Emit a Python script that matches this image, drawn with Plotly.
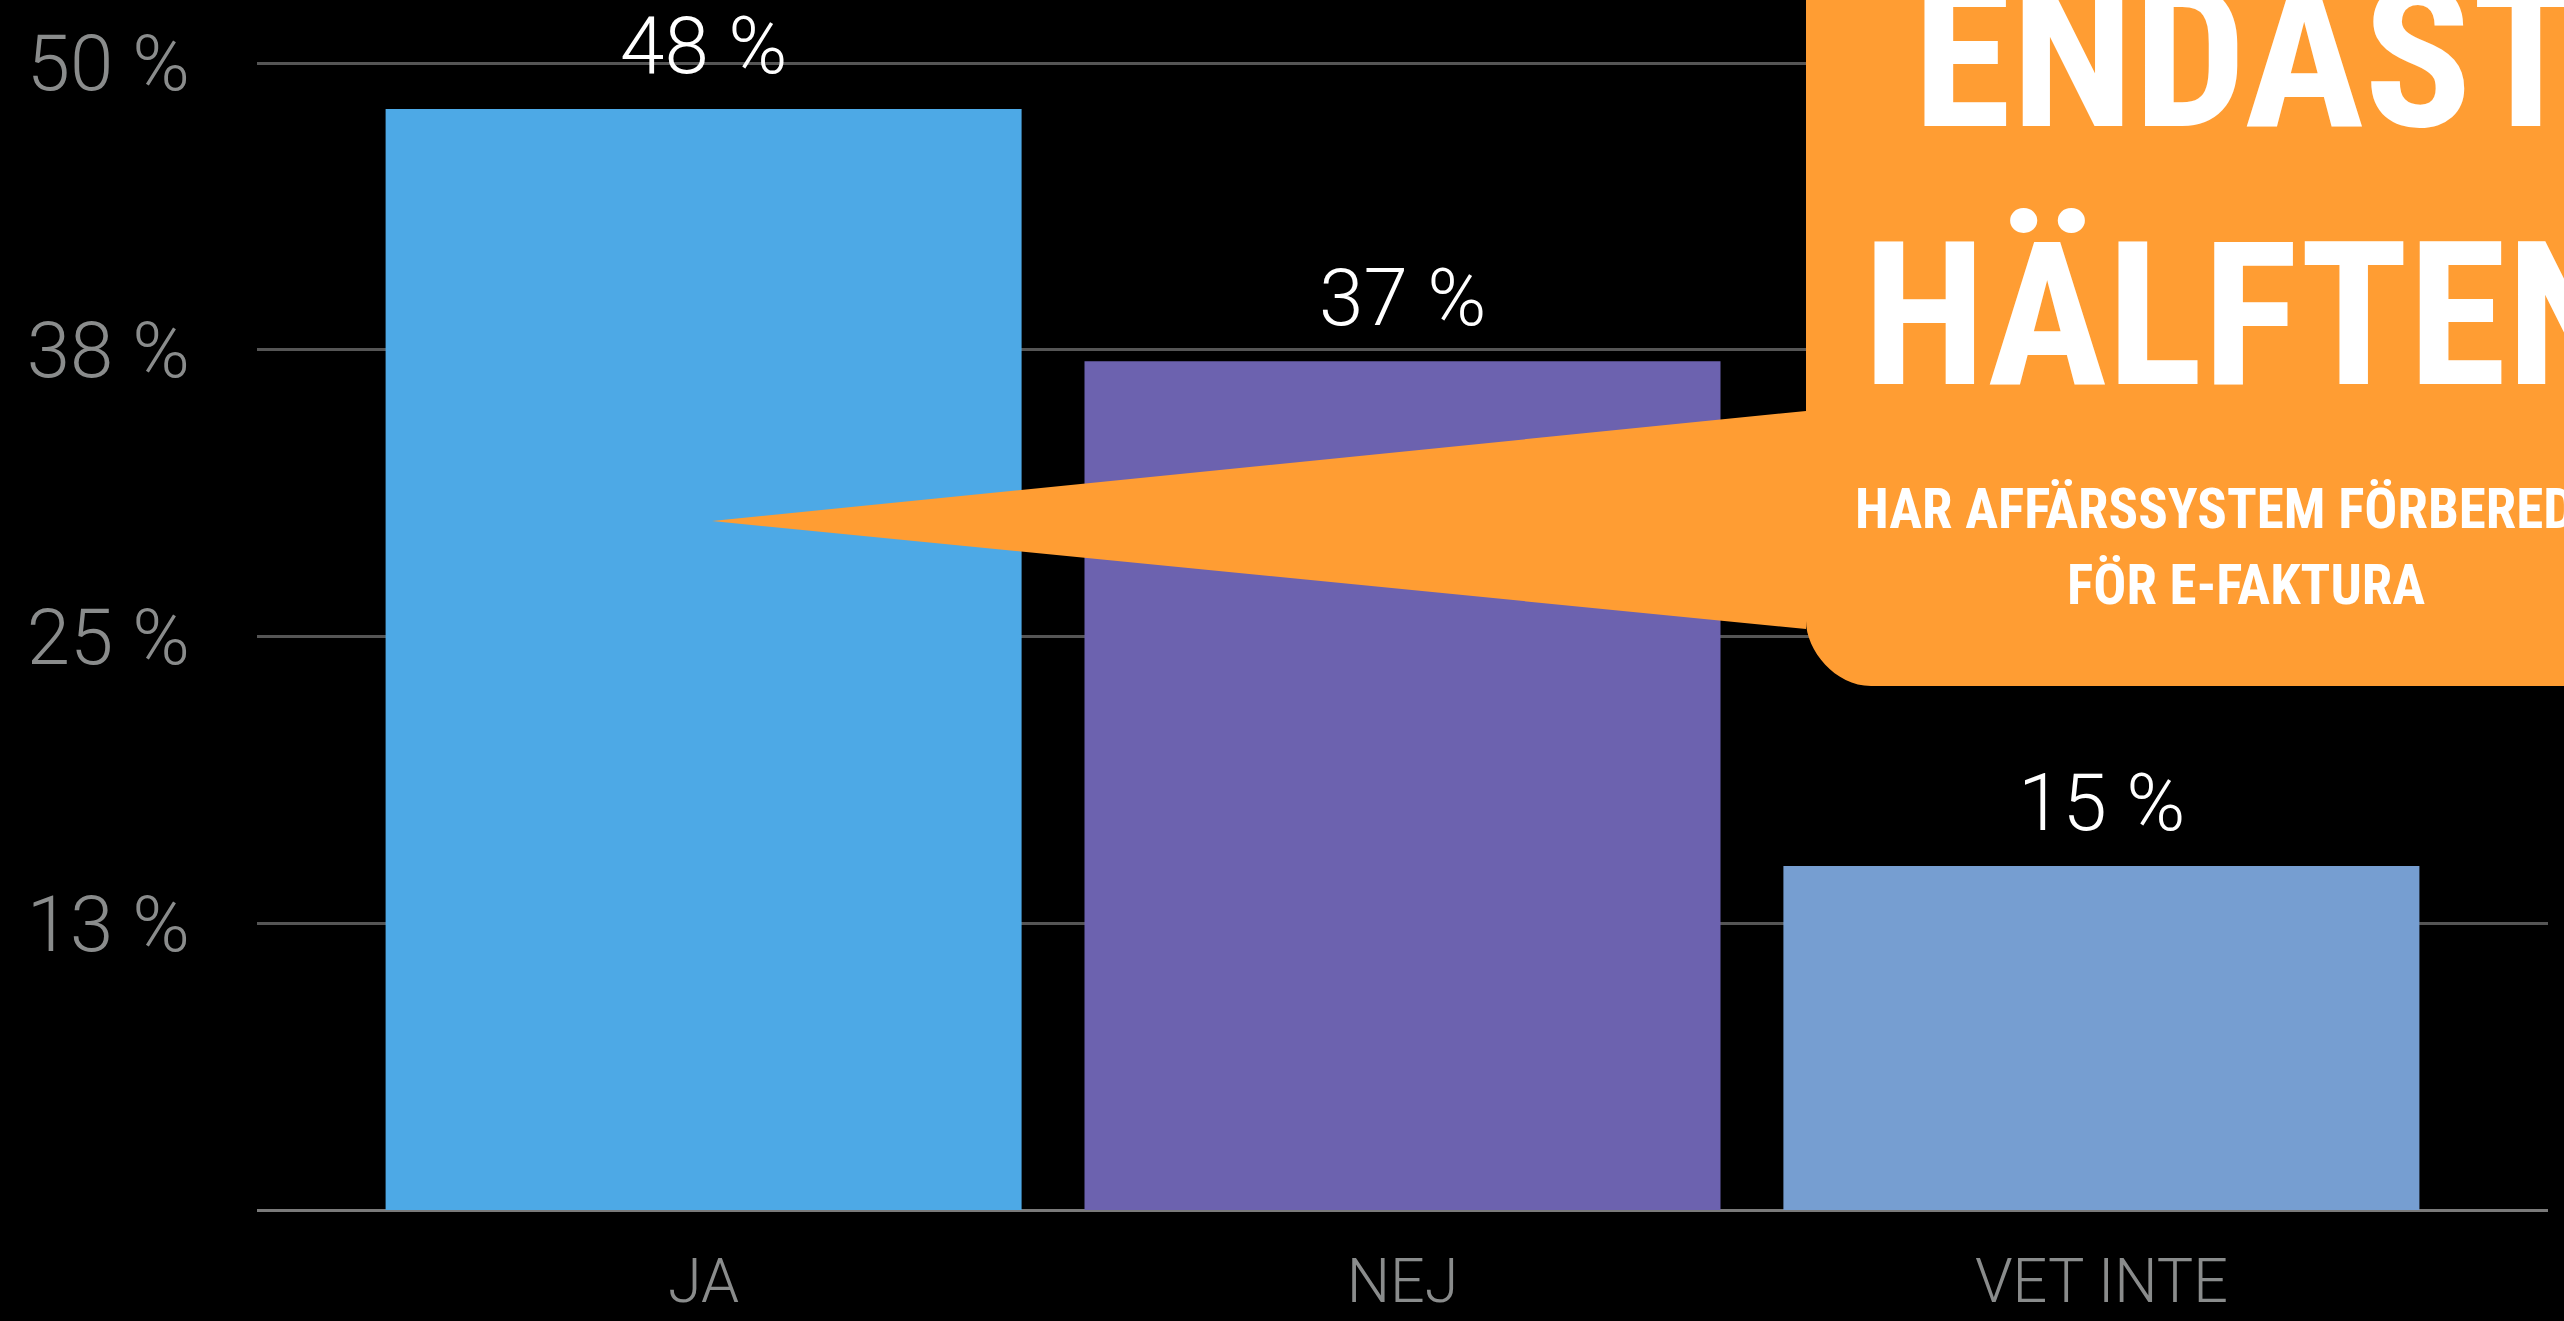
import plotly.graph_objects as go

# ---- data ----
categories = ["JA", "NEJ", "VET INTE"]
values = [48, 37, 15]
value_labels = ["48 %", "37 %", "15 %"]
bar_colors = ["#4DA9E6", "#6C62AF", "#769ED1"]
y_tickvals = [12.5, 25, 37.5, 50]
y_ticktext = ["13 %", "25 %", "38 %", "50 %"]
callout_title = ["ENDAST", "HÄLFTEN"]
callout_sub = ["HAR AFFÄRSSYSTEM FÖRBEREDDA", "FÖR E-FAKTURA"]

W, H = 2564, 1321
ML, MR, MT, MB = 257, 16, 6, 111
PW, PH = W - ML - MR, H - MT - MB

thin_font = "Roboto, Lato, 'Open Sans', sans-serif"
cond_font = "'Roboto Condensed', 'Liberation Sans Narrow', 'Noto Sans Condensed', 'Open Sans Condensed', Roboto, sans-serif"
ORANGE = "#FF9D33"


def px(x):
    return (x - ML) / PW


def py(y):
    return (H - MB - y) / PH


fig = go.Figure()
fig.add_trace(go.Bar(
    x=categories, y=values,
    marker=dict(color=bar_colors, line=dict(width=0)),
    hoverinfo="skip",
))

# value labels above bars
for c, v, t in zip(categories, values, value_labels):
    fig.add_annotation(x=c, y=v, text=t, showarrow=False, xref="x", yref="y",
                       yanchor="middle", yshift=63,
                       font=dict(family=thin_font, size=80, color="white", weight=300))

# callout shape (rounded box + pointer)
r = 65
path = (
    f"M {px(712)},{py(521)} "
    f"L {px(1806)},{py(411)} "
    f"L {px(1806)},{py(-200)} "
    f"L {px(2800)},{py(-200)} "
    f"L {px(2800)},{py(686)} "
    f"L {px(1806 + r)},{py(686)} "
    f"C {px(1806 + r * 0.45)},{py(686)} {px(1806)},{py(686 - r * 0.55)} {px(1806)},{py(686 - r)} "
    f"L {px(1806)},{py(629)} Z"
)
fig.add_shape(type="path", path=path, xref="paper", yref="paper",
              fillcolor=ORANGE, line=dict(width=0), layer="above")

cx = px(2246)
fig.add_annotation(x=cx, y=py(58), xref="paper", yref="paper", text=callout_title[0],
                   showarrow=False, xanchor="center", yanchor="middle",
                   font=dict(family=cond_font, size=200, color="white", weight="bold"))
fig.add_annotation(x=cx, y=py(316), xref="paper", yref="paper", text=callout_title[1],
                   showarrow=False, xanchor="center", yanchor="middle",
                   font=dict(family=cond_font, size=200, color="white", weight="bold"))
fig.add_annotation(x=cx, y=py(509), xref="paper", yref="paper", text=callout_sub[0],
                   showarrow=False, xanchor="center", yanchor="middle",
                   font=dict(family=cond_font, size=55, color="white", weight="bold"))
fig.add_annotation(x=cx, y=py(585), xref="paper", yref="paper", text=callout_sub[1],
                   showarrow=False, xanchor="center", yanchor="middle",
                   font=dict(family=cond_font, size=55, color="white", weight="bold"))

fig.update_layout(
    width=W, height=H,
    paper_bgcolor="black", plot_bgcolor="black",
    margin=dict(l=ML, r=MR, t=MT, b=MB, pad=0, autoexpand=False),
    showlegend=False,
    bargap=0.09,
    xaxis=dict(
        range=[-0.639, 2.639], showgrid=False, zeroline=False, showline=False,
        ticks="", ticklabelstandoff=30, automargin=False,
        tickfont=dict(family=thin_font, size=61, color="#8A8C8C", weight=300),
        fixedrange=True,
    ),
    yaxis=dict(
        range=[0, PH / 22.94], tickvals=y_tickvals, ticktext=y_ticktext,
        showgrid=True, gridcolor="#555555", gridwidth=2.5,
        zeroline=True, zerolinecolor="#7A7A7A", zerolinewidth=3,
        showline=False, ticks="", ticklabelstandoff=66, automargin=False,
        tickfont=dict(family=thin_font, size=78, color="#8A8C8C", weight=300),
        fixedrange=True,
    ),
)

fig.write_html("out.html")
